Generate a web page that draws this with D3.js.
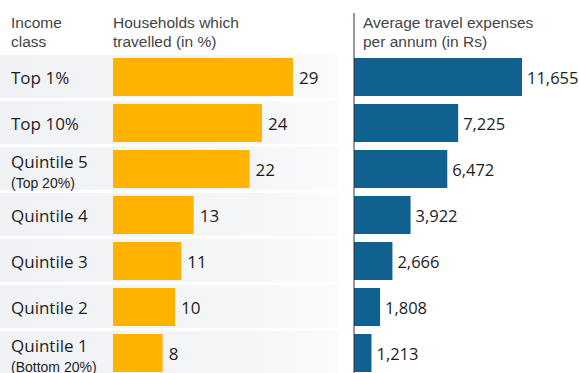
<!DOCTYPE html>
<html>
<head>
<meta charset="utf-8">
<script src="https://cdn.jsdelivr.net/npm/d3@7"></script>
<style>
  html, body { margin: 0; padding: 0; background: #fff; }
  svg { display: block; font-family: "Open Sans", "Noto Sans", sans-serif; }
  .tight { font-family: "Liberation Sans", Arial, sans-serif; }
</style>
</head>
<body>
<svg id="chart" width="579" height="373"></svg>
<script>
// Income classes, top to bottom
const categories = ["Top 1%", "Top 10%", "Quintile 5", "Quintile 4", "Quintile 3", "Quintile 2", "Quintile 1"];
const subLabels = ["", "", "(Top 20%)", "", "", "", "(Bottom 20%)"];
// Share of households which travelled (in %)
const travelledPct = [29, 24, 22, 13, 11, 10, 8];
// Average travel expenses per annum (in Rs)
const avgExpenses = [11655, 7225, 6472, 3922, 2666, 1808, 1213];
// Column headings
const headIncome = ["Income", "class"];
const headTravelled = ["Households which", "travelled (in %)"];
const headExpenses = ["Average travel expenses", "per annum (in Rs)"];

const svg = d3.select("#chart");
const W = 579, H = 373;

const rows = categories.map((c, i) => ({
  cat: c, sub: subLabels[i], pct: travelledPct[i], exp: avgExpenses[i]
}));

const y = d3.scaleBand()
  .domain(categories)
  .range([54, 376])
  .paddingInner(0.174)
  .paddingOuter(0.087);

const xL = d3.scaleLinear().domain([0, 29]).range([113, 293]);
const xR = d3.scaleLinear().domain([0, 11655]).range([354, 522]);

const step = y.step();
const cy = d => y(d.cat) + y.bandwidth() / 2;

// light row bands behind the left panel
const grad = svg.append("defs").append("linearGradient")
  .attr("id", "bandFade").attr("x1", "0").attr("x2", "1");
grad.append("stop").attr("offset", "0").attr("stop-color", "#f1f2f5");
grad.append("stop").attr("offset", "0.75").attr("stop-color", "#f5f6f8");
grad.append("stop").attr("offset", "1").attr("stop-color", "#fbfbfc");

svg.append("g").selectAll("rect")
  .data(rows).join("rect")
  .attr("x", 0)
  .attr("y", d => y(d.cat) - y.paddingOuter() * step + 1)
  .attr("width", 338)
  .attr("height", step - 3)
  .attr("fill", "url(#bandFade)");

// headings, two lines each
const head = svg.append("g").attr("class", "tight")
  .attr("fill", "#444").attr("font-size", 15.5);
function heading(lines, x) {
  lines.forEach((s, k) => {
    head.append("text").attr("x", x).attr("y", 28 + k * 18.5).text(s);
  });
}
heading(headIncome, 11);
heading(headTravelled, 113);
heading(headExpenses, 363);

// category labels
const lab = svg.append("g").attr("fill", "#1e1e1e");
rows.forEach(d => {
  if (d.sub) {
    lab.append("text").attr("x", 11).attr("y", cy(d) - 1)
      .attr("font-size", 17).text(d.cat);
    lab.append("text").attr("class", "tight").attr("x", 11).attr("y", cy(d) + 18.5)
      .attr("font-size", 14).text(d.sub);
  } else {
    lab.append("text").attr("x", 11).attr("y", cy(d) + 6.5)
      .attr("font-size", 17).text(d.cat);
  }
});

// left bars: households which travelled
svg.append("g").selectAll("rect")
  .data(rows).join("rect")
  .attr("x", xL(0))
  .attr("y", d => y(d.cat))
  .attr("width", d => xL(d.pct) - xL(0))
  .attr("height", y.bandwidth())
  .attr("fill", "#ffb300");

svg.append("g").attr("fill", "#1e1e1e").attr("font-size", 17)
  .selectAll("text").data(rows).join("text")
  .attr("x", d => xL(d.pct) + 6)
  .attr("y", d => cy(d) + 6.5)
  .text(d => d.pct);

// right bars: average expenses
svg.append("g").selectAll("rect")
  .data(rows).join("rect")
  .attr("x", xR(0))
  .attr("y", d => y(d.cat))
  .attr("width", d => xR(d.exp) - xR(0))
  .attr("height", y.bandwidth())
  .attr("fill", "#10618f");

const fmt = d3.format(",");
svg.append("g").attr("fill", "#1e1e1e").attr("font-size", 16.5)
  .selectAll("text").data(rows).join("text")
  .attr("x", d => xR(d.exp) + 5)
  .attr("y", d => cy(d) + 6.5)
  .text(d => fmt(d.exp));

// baseline of the expense panel
svg.append("line")
  .attr("x1", xR(0)).attr("x2", xR(0))
  .attr("y1", 13).attr("y2", H)
  .attr("stroke", "#333").attr("stroke-width", 1);
</script>
</body>
</html>
